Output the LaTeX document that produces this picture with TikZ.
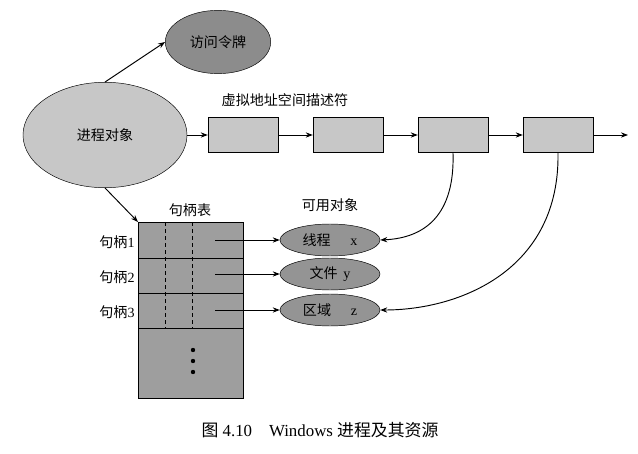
\documentclass[tikz,border=0pt]{standalone}
\usepackage{fontspec}
\setmainfont{Liberation Serif}
\newfontfamily\cjk{Noto Sans CJK SC}
\usetikzlibrary{shapes.geometric,arrows.meta}
\begin{document}
\begin{tikzpicture}[x=0.03cm,y=-0.03cm]

\def\boxw{70}
\def\boxh{35}
\def\objrx{50}

\tikzset{proc/.style = {draw, ellipse, fill=black!22, minimum width=140, minimum height=90, font=\cjk\large},
         token/.style = {draw, ellipse, fill=black!45, minimum width=90, minimum height=54, font=\cjk\large},
         vad/.style = {draw, rectangle, fill=black!22, minimum width=\boxw*0.03cm, minimum height=\boxh*0.03cm},
         obj/.style = {draw, ellipse, fill=black!42, minimum width=100*0.03cm, minimum height=32*0.03cm, inner sep=0pt, font=\large},
         lbl/.style = {font=\cjk\large},
         arr/.style = {-{Stealth[length=6pt]}, thick}}

\useasboundingbox (0,0) rectangle (638,454);

\node[proc] (P) at (105,135) {进程对象};
\node[token] (T) at (218,42) {访问令牌};
\draw[arr] (P.north) -- (T.west);

% descriptors
\node[lbl] (Vlbl) at (285,100) {虚拟地址空间描述符};
\node[vad] (V1) at (243,135) {};
\node[vad] (V2) at (348,135) {};
\node[vad] (V3) at (453,135) {};
\node[vad] (V4) at (558,135) {};
\coordinate (Vend) at (628,135);
\draw[arr] (P.east) -- (V1.west);
\draw[arr] (V1) -- (V2);
\draw[arr] (V2) -- (V3);
\draw[arr] (V3) -- (V4);
\draw[arr] (V4.east) -- (Vend);

% handle table
\coordinate (Htl) at (138,222);
\coordinate (Hbr) at (243,398);
\fill[black!38] (Htl) rectangle (Hbr);
\draw (Htl) rectangle (Hbr);
\foreach \y in {258,293,328} \draw (138,\y) -- (243,\y);
\foreach \x in {165,192} \draw[dashed] (\x,222) -- (\x,328);
\foreach \y in {350,361,372} \fill (193,\y) circle (2.2);
\node[lbl] (Hlbl) at (190,210) {句柄表};
\draw[arr] (P.south) -- (Htl);

% objects
\node[lbl] (Olbl) at (330,205) {可用对象};
\node[obj] (O1) at (330,240) {\cjk 线程\hspace{1.4em}\normalfont x};
\node[obj] (O2) at (330,274) {\cjk 文件\hspace{0.4em}\normalfont y};
\node[obj] (O3) at (330,310) {\cjk 区域\hspace{1.4em}\normalfont z};

\node[lbl] (H1) at (117,242) {句柄\normalfont 1};
\node[lbl] (H2) at (117,277) {句柄\normalfont 2};
\node[lbl] (H3) at (117,312) {句柄\normalfont 3};
\coordinate (S1) at (215,240);
\coordinate (S2) at (215,274);
\coordinate (S3) at (215,310);
\draw[arr] (S1) -- (O1.west);
\draw[arr] (S2) -- (O2.west);
\draw[arr] (S3) -- (O3.west);

\draw[arr] (V3.south) .. controls (455,215) and (425,238) .. (O1.east);
\draw[arr] (V4.south) .. controls (560,270) and (460,310) .. (O3.east);

\node (Cap) at (320,430) {\Large{\cjk 图} 4.10\quad Windows {\cjk 进程及其资源}};

\end{tikzpicture}
\end{document}
